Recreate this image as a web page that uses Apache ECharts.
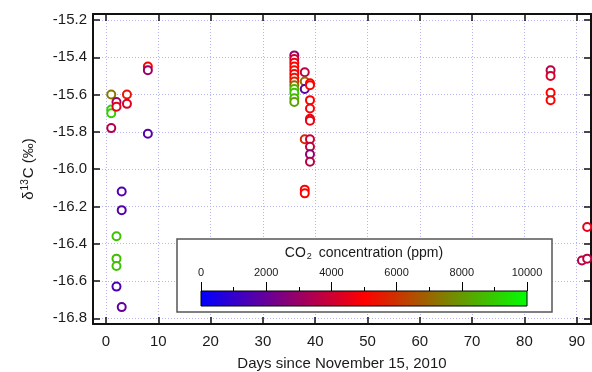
<!DOCTYPE html>
<html>
<head>
<meta charset="utf-8">
<script src="https://cdn.jsdelivr.net/npm/echarts@6/dist/echarts.min.js"></script>
<style>
  html, body { margin: 0; padding: 0; background: #fff; }
  #chart { width: 592px; height: 372px; }
</style>
</head>
<body>
<div id="chart"></div>
<script>
// Sampling day (days since 15 Nov 2010)
var days = [
  1, 1, 1, 1, 2, 2, 4, 4, 8, 8, 8, 3, 3, 2, 2, 2, 2, 3,
  36, 36, 36, 36, 36, 36, 36, 36, 36, 36, 36, 36, 36,
  38, 38, 38, 38, 38, 38,
  39, 39, 39, 39, 39, 39, 39, 39, 39, 39,
  85, 85, 85, 85,
  92, 91, 92
];
// Isotope ratio delta13C (per mil)
var d13C = [
  -15.60, -15.68, -15.70, -15.78, -15.64, -15.665, -15.60, -15.65, -15.45, -15.47, -15.81, -16.12, -16.22, -16.36, -16.48, -16.52, -16.63, -16.74,
  -15.39, -15.41, -15.43, -15.45, -15.47, -15.49, -15.51, -15.53, -15.55, -15.57, -15.59, -15.62, -15.64,
  -15.48, -15.53, -15.57, -15.84, -16.11, -16.13,
  -15.54, -15.55, -15.63, -15.675, -15.73, -15.74, -15.84, -15.88, -15.92, -15.96,
  -15.47, -15.50, -15.59, -15.63,
  -16.31, -16.49, -16.48
];
// CO2 concentration (ppm)
var co2 = [
  7300, 9200, 9000, 3500, 3200, 4500, 5400, 4300, 5000, 3000, 1700, 1600, 1600, 8800, 8700, 8800, 1500, 1900,
  3000, 4000, 4700, 5000, 5100, 5000, 5300, 5600, 7000, 8500, 8800, 8600, 8200,
  3800, 7200, 1800, 5800, 5000, 5000,
  5000, 5000, 5000, 5000, 4600, 4600, 4000, 3800, 2800, 3600,
  3600, 4200, 5000, 5000,
  4500, 3700, 3700
];
var co2Range = [0, 10000];
var co2Step = 2000;

var points = days.map(function (d, i) { return [d, d13C[i], co2[i]]; });

var FONT = 'Liberation Sans, Arial, sans-serif';
var INK = '#1a1a1a';
var GRID_LINE = { show: true, lineStyle: { color: '#b4b4f0', type: [1, 2], width: 1 } };
var RAMP = ['#0000ff', '#ff0000', '#00ff00'];

// colour bar panel geometry
var box = { left: 177, top: 239, width: 375, height: 73 };
var bar = { left: 201, top: 291, width: 326, height: 15 };

var chart = echarts.init(document.getElementById('chart'), null, { renderer: 'canvas' });

chart.setOption({
  animation: false,
  backgroundColor: '#fff',
  textStyle: { fontFamily: FONT, color: INK },
  grid: [
    { left: 93, right: 1, top: 14, bottom: 48, containLabel: false, outerBoundsMode: 'none' },
    {
      left: bar.left, top: bar.top, width: bar.width, height: bar.height,
      show: true, z: 5, borderColor: '#000', borderWidth: 1, outerBoundsMode: 'none',
      backgroundColor: {
        type: 'linear', x: 0, y: 0, x2: 1, y2: 0,
        colorStops: [
          { offset: 0, color: RAMP[0] },
          { offset: 0.5, color: RAMP[1] },
          { offset: 1, color: RAMP[2] }
        ]
      }
    },
    {
      left: box.left, top: box.top, width: box.width, height: box.height, outerBoundsMode: 'none',
      show: true, z: 3, borderColor: '#555', borderWidth: 1.5, backgroundColor: '#fff'
    }
  ],
  xAxis: [
    {
      gridIndex: 0, type: 'value', min: -2.49, max: 92.73, splitNumber: 10,
      axisLine: { show: true, onZero: false, lineStyle: { color: '#111', width: 2 } },
      axisTick: { show: true, inside: true, length: 7, lineStyle: { color: '#111', width: 1.5 } },
      axisLabel: {
        show: true, showMinLabel: false, showMaxLabel: false, margin: 10,
        fontSize: 15, color: INK, fontFamily: FONT
      },
      splitLine: GRID_LINE,
      name: 'Days since November 15, 2010', nameLocation: 'middle', nameGap: 32,
      nameTextStyle: { fontSize: 15, color: INK, fontFamily: FONT }
    },
    {
      gridIndex: 0, type: 'value', min: -2.49, max: 92.73, splitNumber: 10, position: 'top',
      axisLine: { show: true, onZero: false, lineStyle: { color: '#111', width: 2 } },
      axisTick: { show: true, inside: true, length: 7, lineStyle: { color: '#111', width: 1.5 } },
      axisLabel: { show: false }, splitLine: { show: false }
    },
    {
      gridIndex: 1, type: 'value', min: co2Range[0], max: co2Range[1], interval: co2Step,
      position: 'top', z: 8,
      axisLine: { show: false, onZero: false },
      axisTick: { show: true, inside: false, length: 9, lineStyle: { color: '#000', width: 1 } },
      minorTick: { show: true, splitNumber: 2, length: 4, lineStyle: { color: '#000', width: 1 } },
      axisLabel: {
        show: true, margin: 13, fontSize: 11, color: INK, fontFamily: FONT,
        formatter: function (v) { return String(v); }
      },
      splitLine: { show: false },
      name: '{t|CO}{s|2}{t| concentration (ppm)}', nameLocation: 'middle', nameGap: 30,
      nameTextStyle: {
        fontFamily: FONT, color: INK,
        rich: {
          t: { fontSize: 14, fontFamily: FONT, color: INK },
          s: { fontSize: 9, fontFamily: FONT, color: INK, padding: [7, 3, 0, 1] }
        }
      }
    },
    { gridIndex: 2, type: 'value', min: 0, max: 1, show: false }
  ],
  yAxis: [
    {
      gridIndex: 0, type: 'value', min: -16.8306, max: -15.168, splitNumber: 8,
      axisLine: { show: true, onZero: false, lineStyle: { color: '#111', width: 2 } },
      axisTick: { show: true, inside: true, length: 7, lineStyle: { color: '#111', width: 1.5 } },
      axisLabel: {
        show: true, showMinLabel: false, showMaxLabel: false, margin: 6,
        fontSize: 15, color: INK, fontFamily: FONT,
        formatter: function (v) { return v.toFixed(1); }
      },
      splitLine: GRID_LINE,
      name: '{t|δ}{s|13}{t|C (‰)}', nameLocation: 'middle', nameGap: 55, nameRotate: 90,
      nameTextStyle: {
        fontFamily: FONT, color: INK,
        rich: {
          t: { fontSize: 15, fontFamily: FONT, color: INK },
          s: { fontSize: 10, fontFamily: FONT, color: INK, padding: [0, 1, 8, 1] }
        }
      }
    },
    {
      gridIndex: 0, type: 'value', min: -16.8306, max: -15.168, splitNumber: 8, position: 'right',
      axisLine: { show: true, onZero: false, lineStyle: { color: '#111', width: 2 } },
      axisTick: { show: true, inside: true, length: 7, lineStyle: { color: '#111', width: 1.5 } },
      axisLabel: { show: false }, splitLine: { show: false }
    },
    { gridIndex: 1, type: 'value', min: 0, max: 1, show: false },
    { gridIndex: 2, type: 'value', min: 0, max: 1, show: false }
  ],
  visualMap: {
    type: 'continuous', show: false, dimension: 2, seriesIndex: 0,
    min: co2Range[0], max: co2Range[1],
    inRange: { color: RAMP }
  },
  series: [
    {
      type: 'scatter', xAxisIndex: 0, yAxisIndex: 0, z: 2,
      symbol: 'emptyCircle', symbolSize: 8,
      itemStyle: { borderWidth: 1.6, opacity: 1 },
      data: points
    },
    { type: 'scatter', xAxisIndex: 2, yAxisIndex: 2, data: [], silent: true },
    { type: 'scatter', xAxisIndex: 3, yAxisIndex: 3, data: [], silent: true }
  ]
});
</script>
</body>
</html>
